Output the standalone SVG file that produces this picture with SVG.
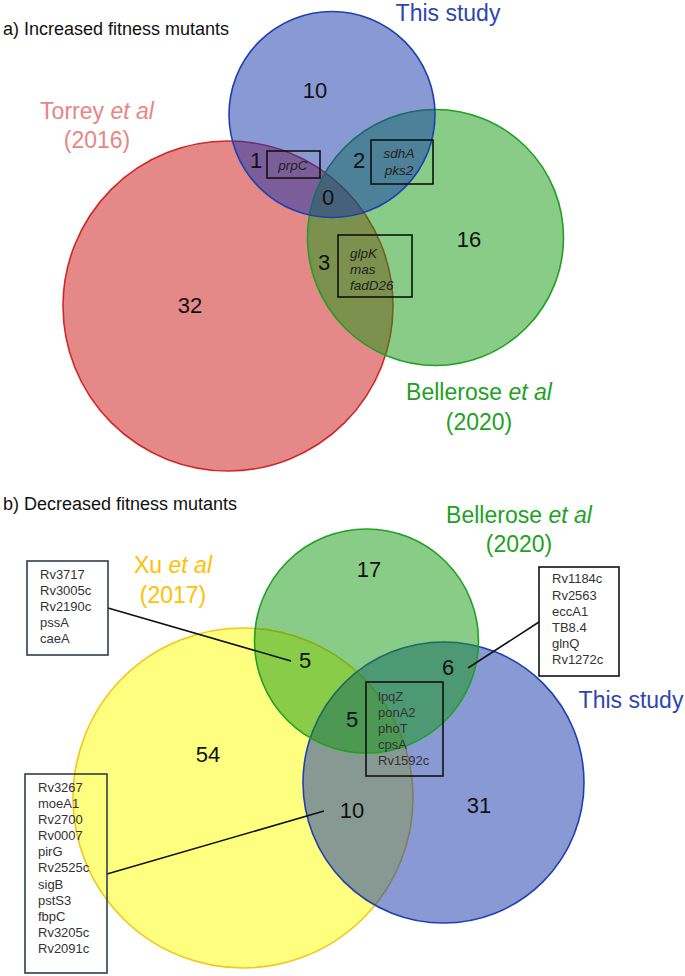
<svg xmlns="http://www.w3.org/2000/svg" width="685" height="976" viewBox="0 0 685 976">
<style>
text{font-family:"Liberation Sans",Arial,sans-serif}
.title{font-size:18px;fill:#111}
.num{font-size:22px;fill:#111;text-anchor:middle}
.lab{font-size:23px;text-anchor:middle}
.gene{font-size:13.5px;font-style:italic;fill:#222}
.gtxt{font-size:13px;fill:#333}
.box{fill:none;stroke:#111;stroke-width:1.6}
.sbox{fill:none;stroke:#2e3f4f;stroke-width:1.6}
.red{fill:#c91111;fill-opacity:0.5;stroke:#d02828;stroke-width:1.6}
.grn{fill:#119911;fill-opacity:0.5;stroke:#22a022;stroke-width:1.6}
.blu{fill:#1133a9;fill-opacity:0.5;stroke:#2040b0;stroke-width:1.6}
.yel{fill:#ffff00;fill-opacity:0.5;stroke:#f5c518;stroke-width:1.6}
.conn{stroke:#111;stroke-width:1.6;fill:none}
</style>
<text class="title" x="3" y="35">a) Increased fitness mutants</text>
<text class="title" x="3" y="510">b) Decreased fitness mutants</text>

<g id="a-torrey"><circle class="red" cx="228" cy="306" r="165"/>
<text class="lab" x="97" y="119" fill="#e88585">Torrey <tspan font-style="italic">et al</tspan></text>
<text class="lab" x="97" y="148" fill="#e88585">(2016)</text></g>
<g id="a-bellerose"><circle class="grn" cx="435.5" cy="237.5" r="128"/>
<text class="lab" x="479" y="400" fill="#22a022">Bellerose <tspan font-style="italic">et al</tspan></text>
<text class="lab" x="479" y="430" fill="#22a022">(2020)</text></g>
<g id="a-thisstudy"><circle class="blu" cx="332" cy="114.5" r="103"/>
<text class="lab" x="448" y="21" fill="#2e46b0" font-size="22.5">This study</text></g>

<g id="a-counts">
<text class="num" x="315" y="98">10</text>
<text class="num" x="190" y="313">32</text>
<text class="num" x="469" y="247">16</text>
<text class="num" x="256" y="168">1</text>
<text class="num" x="359" y="168">2</text>
<text class="num" x="328" y="205">0</text>
<text class="num" x="324" y="270">3</text>
</g>
<g id="a-box-prpC"><rect class="box" x="267" y="151" width="53" height="27"/>
<text class="gene" x="293" y="170" text-anchor="middle">prpC</text></g>
<g id="a-box-sdhA"><rect class="box" x="371" y="140" width="62" height="44"/>
<text class="gene" x="399" y="158" text-anchor="middle">sdhA</text>
<text class="gene" x="399" y="175" text-anchor="middle">pks2</text></g>
<g id="a-box-glpK"><rect class="box" x="338" y="235" width="74" height="62"/>
<text class="gene" x="350" y="258">glpK</text>
<text class="gene" x="350" y="274">mas</text>
<text class="gene" x="350" y="290">fadD26</text></g>

<g id="b-xu"><circle class="yel" cx="243" cy="798" r="170"/>
<text class="lab" x="173" y="573" fill="#ffc000">Xu <tspan font-style="italic">et al</tspan></text>
<text class="lab" x="173" y="603" fill="#ffc000">(2017)</text></g>
<g id="b-thisstudy"><circle class="blu" cx="443.5" cy="782.5" r="140.5"/>
<text class="lab" x="631" y="708" fill="#2e46b0">This study</text></g>
<g id="b-bellerose"><circle class="grn" cx="366.5" cy="641" r="112"/>
<text class="lab" x="519" y="523" fill="#22a022">Bellerose <tspan font-style="italic">et al</tspan></text>
<text class="lab" x="519" y="552" fill="#22a022">(2020)</text></g>

<g id="b-counts">
<text class="num" x="369" y="577">17</text>
<text class="num" x="208" y="762">54</text>
<text class="num" x="479" y="813">31</text>
<text class="num" x="305" y="668">5</text>
<text class="num" x="448" y="675">6</text>
<text class="num" x="352" y="727">5</text>
<text class="num" x="352" y="818">10</text>
</g>

<g id="connectors">
<line class="conn" x1="108" y1="608" x2="291" y2="661"/>
<line class="conn" x1="468" y1="668" x2="539" y2="622"/>
<line class="conn" x1="107" y1="874" x2="324" y2="811"/>
</g>

<g id="b-box-xu-bel"><rect class="sbox" x="27" y="561" width="81" height="94"/>
<text class="gtxt" x="40" y="579">Rv3717</text>
<text class="gtxt" x="40" y="595">Rv3005c</text>
<text class="gtxt" x="40" y="611">Rv2190c</text>
<text class="gtxt" x="40" y="627">pssA</text>
<text class="gtxt" x="40" y="643">caeA</text></g>
<g id="b-box-bel-this"><rect class="box" x="539" y="567" width="80" height="109"/>
<text class="gtxt" x="552" y="583">Rv1184c</text>
<text class="gtxt" x="552" y="600">Rv2563</text>
<text class="gtxt" x="552" y="616">eccA1</text>
<text class="gtxt" x="552" y="632">TB8.4</text>
<text class="gtxt" x="552" y="648">glnQ</text>
<text class="gtxt" x="552" y="664">Rv1272c</text></g>
<g id="b-box-all"><rect class="box" x="366" y="682" width="77" height="94"/>
<text class="gtxt" x="378" y="701">lpqZ</text>
<text class="gtxt" x="378" y="717">ponA2</text>
<text class="gtxt" x="378" y="733">phoT</text>
<text class="gtxt" x="378" y="749">cpsA</text>
<text class="gtxt" x="378" y="765">Rv1592c</text></g>
<g id="b-box-xu-this"><rect class="sbox" x="25" y="774" width="82" height="199"/>
<text class="gtxt" x="38" y="792">Rv3267</text>
<text class="gtxt" x="38" y="808">moeA1</text>
<text class="gtxt" x="38" y="824">Rv2700</text>
<text class="gtxt" x="38" y="840">Rv0007</text>
<text class="gtxt" x="38" y="856">pirG</text>
<text class="gtxt" x="38" y="872">Rv2525c</text>
<text class="gtxt" x="38" y="889">sigB</text>
<text class="gtxt" x="38" y="905">pstS3</text>
<text class="gtxt" x="38" y="921">fbpC</text>
<text class="gtxt" x="38" y="937">Rv3205c</text>
<text class="gtxt" x="38" y="953">Rv2091c</text></g>
</svg>
